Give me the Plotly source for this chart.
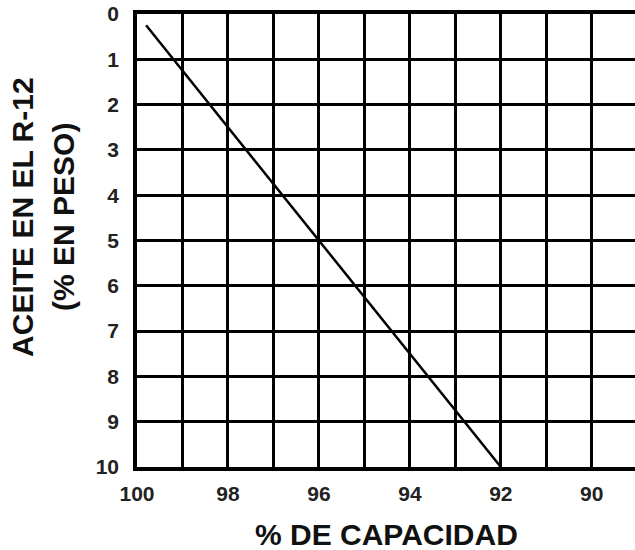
import plotly.graph_objects as go

# Data
capacidad = [99.8, 92.0]          # % de capacidad (x)
aceite = [0.25, 10.0]             # % aceite en peso (y)

x_tick_vals = [100, 99, 98, 97, 96, 95, 94, 93, 92, 91, 90]
x_tick_text = ["100", "", "98", "", "96", "", "94", "", "92", "", "90"]
y_tick_vals = [0, 1, 2, 3, 4, 5, 6, 7, 8, 9, 10]
y_tick_text = ["0", "1", "2", "3", "4", "5", "6", "7", "8", "9", "10"]

FONT = "Liberation Sans, Arial, sans-serif"

fig = go.Figure()
fig.add_trace(go.Scatter(x=capacidad, y=aceite, mode="lines",
                         line=dict(color="black", width=2.5),
                         showlegend=False, hoverinfo="skip"))

fig.update_layout(
    width=635, height=550,
    margin=dict(l=137, r=0, t=14, b=83),
    paper_bgcolor="white", plot_bgcolor="white",
    font=dict(family=FONT, color="black", size=20, weight=700),
    xaxis=dict(range=[100, 89.05], tickvals=x_tick_vals, ticktext=x_tick_text,
               showgrid=True, gridcolor="black", gridwidth=2.5,
               showline=True, linecolor="black", linewidth=3.5, mirror=True,
               ticks="", ticklabelstandoff=5, zeroline=False,
               tickfont=dict(family=FONT, size=21, weight=700, color="#222")),
    yaxis=dict(range=[10, 0], tickvals=y_tick_vals, ticktext=y_tick_text,
               showgrid=True, gridcolor="black", gridwidth=2.5,
               showline=True, linecolor="black", linewidth=3.5,
               ticks="", ticklabelstandoff=10, zeroline=False,
               tickfont=dict(family=FONT, size=21, weight=700, color="#222")),
    annotations=[
        dict(text="% DE CAPACIDAD", xref="paper", yref="paper", x=0.5, y=-0.150,
             xanchor="center", yanchor="middle", showarrow=False,
             font=dict(family=FONT, size=30, weight=700, color="#111")),
        dict(text="ACEITE EN EL R-12", xref="paper", yref="paper", x=-0.229, y=0.552,
             xanchor="center", yanchor="middle", showarrow=False, textangle=-90,
             font=dict(family=FONT, size=30, weight=700, color="#111")),
        dict(text="(% EN PESO)", xref="paper", yref="paper", x=-0.1466, y=0.552,
             xanchor="center", yanchor="middle", showarrow=False, textangle=-90,
             font=dict(family=FONT, size=30, weight=700, color="#111")),
    ],
)

fig.write_html("out.html", config={"displayModeBar": False},
               post_script="document.body.style.margin='0';")
